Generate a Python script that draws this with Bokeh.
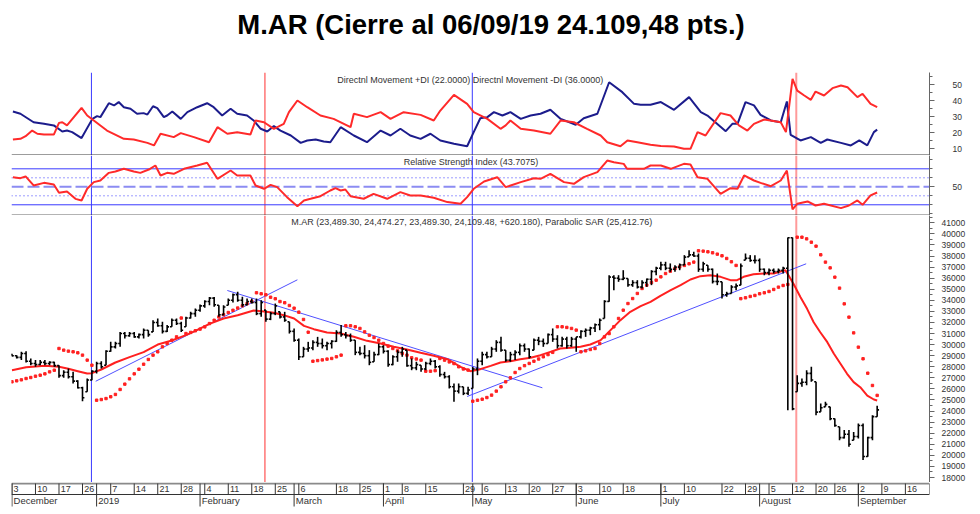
from bokeh.plotting import figure
from bokeh.models import Range1d, FixedTicker, Label, Span
from bokeh.layouts import column
from bokeh.embed import file_html
from bokeh.resources import INLINE
from bokeh.core.properties import value

TITLE = "M.AR (Cierre al 06/09/19 24.109,48 pts.)"
DMI_LABEL = "Directnl Movement +DI (22.0000) Directnl Movement -DI (36.0000)"
RSI_LABEL = "Relative Strength Index (43.7075)"
PRICE_LABEL = "M.AR (23,489.30, 24,474.27, 23,489.30, 24,109.48, +620.180), Parabolic SAR (25,412.76)"

# ---- daily bars (trading-day index 0 = 3 Dec 2018 ... 184 = 6 Sep 2019) ----
high = [29170, 29050, 29350, 29410, 28750, 28600, 28600, 28600, 28500, 28450,
        28140, 27690, 27840, 27540, 26790, 26190, 26940, 27690, 28450, 28500,
        29500, 30250, 30250, 31150, 31150, 31150, 31150, 31000, 31460, 31300,
        32210, 32360, 32060, 31760, 32360, 32360, 32060, 32510, 32960, 33260,
        33620, 34010, 34310, 34310, 33560, 33560, 34160, 34620, 34770, 34320,
        34160, 34160, 34160, 34010, 33110, 32960, 33710, 32960, 32960, 32060,
        31460, 30550, 29800, 30250, 30400, 30700, 30550, 30250, 30400, 31300,
        31760, 31150, 31000, 30400, 29800, 29950, 29500, 29350, 30100, 29950,
        29500, 29050, 29500, 29800, 29500, 28750, 28450, 28140, 28450, 28750,
        28600, 28140, 27540, 27240, 26490, 26490, 26190, 26190, 27990, 28750,
        29350, 29350, 29800, 30400, 30700, 29500, 29350, 29500, 30100, 30100,
        29650, 30550, 30700, 30550, 31000, 31460, 30850, 30700, 30700, 30700,
        30700, 31300, 31460, 31610, 31910, 32360, 34010, 36270, 36270, 36270,
        36720, 35970, 35820, 35820, 35820, 35970, 36720, 37020, 37480, 37480,
        37330, 37170, 37330, 38080, 38530, 38380, 38230, 37480, 37170, 36870,
        36420, 35670, 34770, 35370, 35520, 37330, 38230, 38080, 38080, 37780,
        36870, 36870, 36870, 36870, 37020, 39670, 39670, 27240, 26940, 27690,
        27990, 26640, 24680, 24830, 24380, 23330, 22580, 22280, 22280, 22120,
        22880, 22880, 21670, 23630, 24474.27]
low = [28930, 28750, 28600, 28390, 28140, 27990, 28140, 28140, 28140, 27990,
       27000, 27000, 26940, 26490, 26040, 24890, 25740, 26790, 27390, 27840,
       28140, 29350, 29650, 29800, 30550, 30700, 30610, 30550, 30550, 30700,
       31150, 31610, 31000, 31150, 31610, 31760, 31150, 31610, 32360, 32510,
       32960, 33320, 33560, 33410, 32510, 32660, 33560, 33800, 33860, 33410,
       33560, 33710, 32660, 32510, 32060, 32210, 32660, 32360, 32060, 31000,
       30250, 28600, 28900, 29350, 29500, 29800, 29650, 29500, 29650, 30250,
       30700, 30550, 30250, 29050, 29050, 28750, 28140, 28450, 29050, 29200,
       27990, 28140, 28450, 28900, 27990, 27690, 27690, 27540, 27690, 28140,
       27840, 27090, 26940, 26040, 24830, 25590, 25440, 25440, 26040, 27240,
       28140, 28750, 28900, 29350, 29350, 28450, 28450, 28600, 29050, 29350,
       28750, 29500, 29950, 29800, 30100, 30250, 29650, 29800, 29650, 29800,
       29350, 30550, 30700, 30850, 31150, 31300, 32360, 33860, 34920, 35670,
       35820, 35220, 35220, 35070, 35070, 35220, 35370, 36270, 36720, 36720,
       36570, 36570, 36720, 37170, 37930, 37930, 36570, 36570, 36570, 35520,
       35370, 34160, 34320, 34620, 34920, 35370, 37630, 37480, 37330, 36570,
       36270, 36270, 36420, 36420, 36420, 24080, 24080, 25740, 26190, 26340,
       26640, 23630, 23930, 24380, 23180, 22580, 21370, 21520, 20770, 21370,
       21520, 19570, 19870, 21370, 23489.30]
open_ = [29100, 29000, 28850, 29200, 28500, 28300, 28200, 28400, 28300, 28400,
         28100, 27200, 27500, 27100, 26700, 26100, 25740, 26800, 27600, 28300,
         28140, 29400, 29800, 30100, 31000, 30800, 31000, 30700, 30900, 31300,
         31150, 32000, 31700, 31200, 31610, 32200, 31900, 31610, 32400, 32800,
         33100, 33500, 33900, 34200, 33560, 32700, 33560, 34000, 34500, 34000,
         33600, 33900, 33800, 32800, 33110, 32300, 32800, 32960, 32500, 32060,
         31200, 30400, 28900, 29600, 29700, 30200, 30100, 29900, 30100, 30300,
         31100, 30900, 30800, 30400, 29300, 29200, 29000, 28450, 29100, 29800,
         29400, 28200, 28900, 29300, 29500, 28100, 27900, 28140, 27800, 28300,
         28500, 28000, 27300, 27100, 26200, 25800, 26190, 25600, 26040, 27800,
         28500, 29100, 28900, 29600, 30200, 29500, 28600, 29100, 29300, 29900,
         29600, 29500, 30400, 30300, 30100, 30900, 30500, 29900, 30500, 29900,
         30500, 30700, 31200, 31300, 31500, 31800, 32360, 33900, 36100, 36000,
         35900, 35970, 35400, 35600, 35200, 35600, 35900, 36600, 36900, 37200,
         36900, 36800, 37000, 37200, 37930, 38100, 38000, 36800, 37170, 36800,
         35700, 35670, 34500, 34620, 35200, 35370, 37630, 37800, 37600, 37600,
         36800, 36500, 36700, 36600, 36700, 36900, 39650, 25740, 26500, 26600,
         27400, 26640, 23930, 24380, 24380, 23300, 22580, 21600, 21900, 21370,
         21700, 22700, 19900, 21600, 23489.30]
close = [29000, 28850, 29200, 28500, 28300, 28200, 28400, 28300, 28400, 28100,
         27200, 27500, 27100, 26700, 26100, 25200, 26800, 27600, 28300, 28000,
         29400, 29800, 30100, 31000, 30800, 31000, 30700, 30900, 31300, 30900,
         32000, 31700, 31200, 31600, 32200, 31900, 31300, 32400, 32800, 33100,
         33500, 33900, 34200, 33600, 32700, 33400, 34000, 34500, 34000, 33600,
         33900, 33800, 32800, 33800, 32300, 32800, 33500, 32500, 32200, 31200,
         30400, 28900, 29600, 29700, 30200, 30100, 29900, 30100, 30300, 31100,
         30900, 30800, 30400, 29300, 29200, 29000, 28400, 29100, 29800, 29400,
         28200, 28900, 29300, 29600, 28100, 27900, 28200, 27800, 28300, 28500,
         28000, 27300, 27100, 26200, 25800, 26200, 25600, 25900, 27800, 28500,
         29100, 28900, 29600, 30200, 29500, 28600, 29100, 29300, 29900, 29600,
         28900, 30400, 30300, 30100, 30900, 30500, 29900, 30500, 29900, 30500,
         30700, 31200, 31300, 31500, 31800, 32200, 33900, 36100, 36000, 35900,
         36000, 35400, 35600, 35200, 35600, 35900, 36600, 36900, 37200, 36900,
         36800, 37000, 37200, 37900, 38100, 38000, 36800, 37300, 36800, 35700,
         35700, 34500, 34600, 35200, 35300, 37100, 37800, 37600, 37600, 36800,
         36500, 36700, 36600, 36700, 36900, 39650, 24200, 26500, 26600, 27400,
         26800, 23900, 24300, 24600, 23300, 22700, 21600, 21900, 21000, 21700,
         22700, 19900, 21600, 23500, 24109.48]
day = list(range(len(close)))

# ---- moving average (red line) ----
ma_x = [0, 3, 7, 10, 12, 14, 16, 17, 19, 22, 25, 28, 31, 34, 37, 39, 42, 45, 48, 51.4,
        53.6, 55.7, 57.8, 60, 62.1, 64.2, 67, 69.9, 72.7, 75.5, 78.4, 81.2, 84, 86.9, 89.7,
        92.6, 95.4, 97.5, 99.6, 101.8, 103.9, 106, 108.1, 110.3, 112.4, 114.5, 116.6, 118.8,
        120.9, 123, 125.2, 127.3, 129.4, 131.5, 133.7, 135.8, 137.9, 140.1, 142.2, 144.3,
        146.4, 148.5, 150.7, 152.8, 154.2, 155.6, 157.7, 159.9, 162, 164.5, 166.2, 167.7,
        169.1, 170.5, 171.9, 173.4, 174.8, 176.2, 177.6, 179, 180.4, 181.9, 183.3, 184]
ma_y = [27693, 27963, 28084, 27994, 27813, 27602, 27392, 27422, 27753, 28385, 28867, 29318,
        30010, 30372, 30853, 31245, 31876, 32358, 32659, 33080, 32990, 32870, 32659, 32358,
        31696, 31395, 31094, 31004, 30703, 30341, 30101, 29800, 29559, 29257, 28987, 28686,
        27994, 27602, 27783, 28084, 28385, 28505, 28686, 28806, 29047, 29348, 29649, 29709,
        29800, 30010, 30402, 31305, 32208, 32960, 33472, 33863, 34405, 34917, 35368, 35880,
        36181, 36271, 36121, 35820, 35820, 36121, 36361, 36422, 36422, 36723, 35490, 34280,
        33230, 32025, 31120, 30220, 29170, 28270, 27365, 26610, 26155, 25400, 25045, 24955]

# ---- parabolic SAR dots ----
sar_x = list(range(0, 166)) + list(range(167, 185))
sar_y = [26640, 26730, 26820, 26940, 27030, 27150, 27240, 27360, 27540, 27690,
         29650, 29500, 29410, 29350, 29260, 29050, 28600, 28140,
         24980, 25040, 25130, 25290, 25500, 25950, 26430, 26910, 27360, 27780, 28230, 28660,
         29050, 29350, 29800, 30100, 30400, 30700,
         32400, 31000, 31100, 31250, 31400, 31600, 31900, 32200, 32500, 32700, 32900, 33100,
         33300, 33500, 33700, 33900,
         34680, 34590, 34500, 34280, 34140, 33890, 33780, 33530, 33290, 32930, 32270, 31120,
         28500, 28560, 28620, 28690, 28750, 28900, 29050,
         31700, 31700, 31610, 31460, 31150, 30850, 30640, 30400, 30100, 29860, 29650, 29440,
         29200, 29050, 28810, 28700, 28600,
         27600, 27600, 27650,
         28750, 28600, 28440, 28290, 28000, 27800, 27700,
         24890, 24980, 25070, 25220, 25440, 25800, 26190, 26640, 27000, 27480, 27840, 28100,
         28300, 28500, 28700, 28900, 29100, 29300,
         31610, 31610, 31550, 31460, 31310,
         29350, 29440, 29560, 29650, 30100, 30700, 31000, 31610, 32360, 33110, 33710, 34160,
         34620, 35070, 35370, 35610, 35820, 36120, 36420, 36630, 36870, 37020, 37150, 37300,
         37450,
         38470, 38440, 38380, 38290, 38170, 38020, 37780, 37480, 37150,
         34150, 34230, 34350, 34440, 34590, 34680, 34800, 34980, 35190, 35340, 35430,
         39700, 39700, 39550, 39250, 38890, 38110, 37450, 36930, 36090, 35100, 33680, 32480,
         31060, 29770, 28720, 27420, 26310, 25413]

# ---- trend lines drawn on the price panel ----
trend_x0 = [17.8, 45.8, 96.8]
trend_y0 = [26690, 34887, 25315]
trend_x1 = [60.7, 112.8, 168.9]
trend_y1 = [35853, 26100, 37298]

# ---- vertical marker lines ----
vline_blue = [16.9, 97.9]
vline_red = [53.8]
vline_pink = [166.8]

# ---- Directional movement ----
pdi_x = [0.2, 1.8, 4.6, 6.8, 8.9, 10.7, 11.7, 12.8, 14.8, 17.1, 18.1, 18.8, 20.6, 21.7, 22.7,
         23.8, 25.2, 26.6, 28.0, 28.8, 30.0, 30.9, 32.3, 33.0, 34.1, 35.9, 37.3, 39.4, 41.5,
         42.9, 44.7, 46.5, 47.9, 50.0, 51.4, 52.9, 54.3, 55.7, 57.1, 59.3, 61.4, 62.8, 64.6,
         66.3, 67.7, 69.9, 72.7, 75.5, 78.4, 80.5, 82.6, 84.7, 86.9, 89.0, 91.1, 94.0, 96.8,
         98.2, 99.6, 101.1, 102.5, 104.3, 106.0, 108.2, 110.3, 112.4, 114.5, 116.7, 119.9,
         121.6, 124.5, 127.0, 129.8, 132.3, 133.7, 135.8, 138.0, 140.8, 144.0, 146.5, 147.9,
         151.8, 153.2, 154.3, 156.0, 157.8, 159.2, 161.4, 163.5, 164.8, 165.6, 167.7, 169.9,
         172.0, 173.4, 176.3, 178.4, 180.2, 181.9, 183.3, 184.0]
pdi_y = [33.3, 31.9, 26.6, 25.6, 24.6, 20.8, 21.4, 20.4, 16.7, 28.7, 30.4, 29.8, 38.5, 37.1,
         39.2, 36.0, 35.0, 31.9, 32.3, 31.4, 36.6, 35.4, 29.8, 30.8, 33.3, 28.7, 32.9, 36.0,
         38.5, 36.0, 30.8, 35.0, 31.9, 30.8, 27.7, 22.5, 20.8, 24.2, 21.4, 18.3, 13.7, 15.2,
         15.8, 14.6, 14.1, 23.5, 18.3, 14.1, 21.4, 18.3, 22.5, 18.3, 16.2, 19.4, 15.2, 13.1,
         11.6, 20.4, 29.1, 29.8, 32.9, 30.8, 32.9, 28.7, 30.8, 31.9, 34.4, 28.7, 25.0, 29.1,
         31.9, 51.6, 45.4, 38.1, 37.5, 37.5, 39.2, 34.4, 42.3, 32.9, 30.8, 21.0, 25.6, 25.6,
         39.2, 37.1, 31.2, 27.7, 26.6, 39.6, 18.7, 15.2, 17.3, 13.7, 15.8, 13.7, 12.1, 15.2,
         12.1, 20.4, 22.0]
mdi_x = [0.2, 1.8, 2.9, 4.3, 5.4, 6.8, 8.9, 10.0, 10.7, 11.7, 14.8, 16.0, 17.4, 20.2, 23.8,
         25.9, 28.8, 30.2, 31.6, 34.4, 35.9, 38.7, 41.9, 43.7, 45.8, 47.9, 50.7, 51.8, 53.6,
         55.7, 57.8, 58.9, 60.7, 62.8, 65.6, 68.4, 72.0, 72.7, 75.5, 78.4, 80.5, 83.3, 86.9,
         89.7, 91.1, 94.0, 96.8, 98.2, 101.1, 103.9, 105.0, 106.0, 108.2, 111.0, 114.5, 116.7,
         119.5, 122.3, 125.2, 126.6, 129.4, 130.9, 133.0, 135.8, 138.0, 140.8, 142.9, 144.3,
         145.8, 147.5, 150.7, 152.8, 154.6, 156.4, 157.8, 160.0, 163.5, 164.6, 166.0, 167.0,
         168.5, 169.9, 170.9, 172.7, 174.5, 176.3, 177.7, 179.8, 180.9, 182.6, 184.0]
mdi_y = [15.8, 16.2, 17.9, 21.4, 19.4, 18.9, 18.9, 26.2, 26.6, 24.6, 35.6, 30.8, 27.7, 21.4,
         16.2, 15.8, 13.7, 12.1, 19.4, 17.3, 19.8, 17.3, 14.1, 23.5, 19.4, 20.4, 18.9, 27.7,
         26.6, 22.5, 25.6, 32.9, 40.2, 36.0, 30.8, 28.7, 23.5, 31.9, 29.8, 32.9, 28.7, 32.9,
         31.2, 27.7, 33.9, 43.7, 38.1, 32.9, 28.7, 22.5, 24.6, 27.7, 22.5, 21.4, 19.4, 27.7,
         26.6, 22.5, 18.3, 14.1, 11.6, 15.2, 14.1, 12.5, 11.7, 11.4, 10.0, 10.0, 20.4, 18.3,
         32.3, 30.8, 24.6, 21.4, 25.6, 28.3, 26.6, 20.4, 53.7, 46.4, 43.3, 40.6, 45.8, 43.3,
         47.9, 49.6, 48.5, 42.3, 44.4, 38.1, 36.0]

# ---- RSI ----
rsi_x = [0.2, 1.8, 2.9, 4.6, 6.8, 8.9, 10.0, 11.7, 13.5, 14.8, 16.0, 17.4, 18.8, 20.6, 22.0,
         23.8, 25.9, 27.3, 29.1, 30.5, 31.6, 33.0, 34.4, 36.6, 39.4, 41.5, 43.7, 46.5, 47.9,
         50.7, 51.8, 53.6, 55.0, 56.4, 58.5, 60.7, 62.1, 63.5, 65.6, 67.7, 68.8, 69.9, 70.9,
         72.0, 74.8, 76.9, 79.8, 82.6, 84.7, 86.9, 89.7, 92.6, 95.4, 96.8, 98.2, 100.4, 103.2,
         105.0, 108.2, 111.0, 112.4, 114.5, 117.4, 119.5, 121.6, 124.5, 126.6, 128.0, 130.1,
         130.8, 134.4, 135.8, 138.0, 140.1, 142.9, 144.3, 145.8, 147.9, 150.7, 152.8, 154.3,
         155.7, 157.8, 159.2, 161.4, 163.5, 164.8, 166.0, 167.0, 169.2, 170.9, 172.7, 176.3,
         178.0, 179.8, 180.9, 182.6, 184.0]
rsi_y = [60.7, 59.6, 61.5, 51.5, 54.4, 52.6, 43.3, 44.8, 36.6, 34.8, 47.8, 55.2, 57.0, 65.5,
         67.0, 70.0, 67.0, 65.5, 69.2, 73.7, 62.6, 65.5, 64.4, 70.0, 73.7, 76.7, 58.9, 68.1,
         62.6, 62.6, 51.5, 47.8, 52.2, 49.6, 38.5, 28.5, 34.8, 36.7, 39.6, 45.9, 48.5, 45.9,
         47.0, 39.6, 36.7, 42.2, 36.7, 44.1, 40.4, 40.4, 37.8, 33.0, 31.1, 38.5, 47.8, 55.9,
         60.7, 49.6, 55.2, 59.6, 58.9, 64.4, 55.2, 53.3, 60.7, 66.3, 79.2, 77.4, 75.5, 70.0,
         70.0, 73.7, 73.7, 70.0, 75.5, 74.8, 60.7, 58.9, 42.2, 48.5, 47.8, 62.6, 57.0, 54.4,
         50.7, 57.0, 68.1, 24.8, 31.1, 33.7, 29.2, 31.1, 26.3, 29.2, 34.8, 30.0, 40.4, 43.7]
rsi_levels_solid = [70, 30]
rsi_levels_dotted = [60, 40]
rsi_level_mid = 50

# ---- axes ----
dmi_ticks = [10, 20, 30, 40, 50]
dmi_minor = [5, 15, 25, 35, 45, 55]
rsi_ticks = [50]
rsi_minor = [20, 30, 40, 60, 70, 80]
price_ticks = list(range(18000, 41001, 1000))
price_minor = list(range(17500, 41501, 500))
week_ticks = [0, 5, 10, 15, 21, 26, 31, 36, 41, 46, 51, 56, 61, 69, 74, 79, 83, 88, 96, 100,
              105, 110, 115, 120, 125, 130, 138, 143, 151, 156, 161, 166, 171, 175, 180, 185, 190]
week_labels = ["3", "10", "17", "26", "7", "14", "21", "28", "4", "11", "18", "25", "6", "18",
               "25", "1", "8", "15", "29", "6", "13", "20", "27", "3", "10", "18", "1", "10",
               "22", "29", "5", "12", "20", "26", "2", "9", "16"]
month_ticks = [0, 18, 40, 60, 79, 98, 120, 138, 159, 180]
month_labels = ["December", "2019", "February", "March", "April", "May", "June", "July",
                "August", "September"]

# ---------------- layout -----------------
LB, RB, FW = 11, 51, 918
FONT = "Liberation Sans"
TXT = "#333333"
xr = Range1d(-0.1, 195.13)
dmi_range = (5.8, 57.7)
rsi_range = (18.1, 84.8)
price_range = (17549, 41659)


def bare(fh, x_range, y_range):
    p = figure(frame_width=FW, frame_height=fh, x_range=x_range, y_range=y_range,
               output_backend="svg", toolbar_location=None, x_axis_location=None,
               y_axis_location=None, min_border_left=LB, min_border_right=RB,
               min_border_top=0, min_border_bottom=0)
    p.grid.visible = False
    p.outline_line_color = None
    return p


def panel(fh, yr, ticks, minor, standoff):
    p = figure(frame_width=FW, frame_height=fh, x_range=xr, y_range=Range1d(*yr),
               output_backend="svg", toolbar_location=None,
               x_axis_location=None, y_axis_location="right",
               min_border_left=LB, min_border_right=RB, min_border_top=0,
               min_border_bottom=0)
    p.grid.visible = False
    p.outline_line_color = None
    ax = p.yaxis[0]
    ax.ticker = FixedTicker(ticks=ticks, minor_ticks=minor)
    ax.axis_line_color = "#666666"
    ax.major_tick_line_color = "#666666"
    ax.minor_tick_line_color = "#666666"
    ax.major_tick_out = 5
    ax.major_tick_in = 0
    ax.minor_tick_out = 3
    ax.minor_tick_in = 0
    ax.major_label_standoff = standoff
    ax.major_label_text_font = FONT
    ax.major_label_text_font_size = "8.5px"
    ax.major_label_text_color = TXT
    return p


def vlines(p):
    for v in vline_blue:
        p.add_layout(Span(location=v, dimension="height", line_color="#3a3aff", line_width=1, level="underlay"))
    for v in vline_red:
        p.add_layout(Span(location=v, dimension="height", line_color="#ff3030", line_width=1, level="underlay"))
    for v in vline_pink:
        p.add_layout(Span(location=v, dimension="height", line_color="#ff9a9a", line_width=2, level="underlay"))


# Title strip
p0 = bare(72, Range1d(0, FW), Range1d(0, 72))
p0.add_layout(Label(x=479.5, y=48, text=TITLE, text_font="Liberation Sans",
                    text_font_size="27.5px", text_font_style="bold", text_color="black",
                    text_align="center", text_baseline="middle"))

# DMI panel
p1 = panel(83, dmi_range, dmi_ticks, dmi_minor, 18)
vlines(p1)
p1.line(pdi_x, pdi_y, line_color="#1c1c8c", line_width=2)
p1.line(mdi_x, mdi_y, line_color="#ff2a2a", line_width=2)
p1.add_layout(Span(location=dmi_range[0] + 0.3, dimension="width", line_color="#333333", line_width=1))
p1.add_layout(Label(x=69.2, y=52.7, text=DMI_LABEL, text_font=FONT, text_font_size="9px",
                    text_color=TXT, text_baseline="middle"))

# RSI panel
p2 = panel(60, rsi_range, rsi_ticks, rsi_minor, 18)
vlines(p2)
for lv in rsi_levels_solid:
    p2.add_layout(Span(location=lv, dimension="width", line_color="#3a3aff", line_width=1, level="underlay"))
for lv in rsi_levels_dotted:
    p2.add_layout(Span(location=lv, dimension="width", line_color="#3a3aff", line_width=1,
                       line_dash="1 3", level="underlay"))
p2.add_layout(Span(location=rsi_level_mid, dimension="width", line_color="#8c8cf2", line_width=2,
                   line_dash="12 4", level="underlay"))
p2.line(rsi_x, rsi_y, line_color="#ff2a2a", line_width=2)
p2.add_layout(Span(location=rsi_range[0] + 0.4, dimension="width", line_color="#333333", line_width=1))
p2.add_layout(Label(x=83.3, y=77.5, text=RSI_LABEL, text_font=FONT, text_font_size="9px",
                    text_color=TXT, text_baseline="middle"))

# Price panel
p3 = panel(267, price_range, price_ticks, price_minor, 7)
vlines(p3)
p3.segment(trend_x0, trend_y0, trend_x1, trend_y1, line_color="#5050ff", line_width=1)
p3.line(ma_x, ma_y, line_color="#ff2020", line_width=2)
p3.scatter(sar_x, sar_y, size=2.4, marker="square", color="#ff2020")
p3.segment(day, low, day, high, line_color="black", line_width=1.6)
p3.segment([d - 0.4 for d in day], open_, day, open_, line_color="black", line_width=1.6)
p3.segment(day, close, [d + 0.4 for d in day], close, line_color="black", line_width=1.6)
p3.add_layout(Label(x=59.4, y=41027, text=PRICE_LABEL, text_font=FONT, text_font_size="9px",
                    text_color=TXT, text_baseline="middle"))

# Date strip
p4 = bare(32, xr, Range1d(0, 32))
x_end = xr.end
p4.segment([xr.start], [31], [x_end], [31], line_color="#8a8a8a", line_width=2)
p4.segment([xr.start], [20], [x_end], [20], line_color="#333333", line_width=1)
row1 = week_ticks + month_ticks + [x_end]
p4.segment(row1, [31] * len(row1), row1, [20] * len(row1), line_color="#333333", line_width=1)
p4.segment(month_ticks, [20] * len(month_ticks), month_ticks, [8] * len(month_ticks),
           line_color="#333333", line_width=1)
p4.text([t + 0.35 for t in week_ticks], [25.5] * len(week_ticks), text=week_labels,
        text_font=value(FONT), text_font_size="9px", text_color=TXT,
        text_align="left", text_baseline="middle")
p4.text([t + 0.35 for t in month_ticks], [14] * len(month_ticks), text=month_labels,
        text_font=value(FONT), text_font_size="9.5px", text_color=TXT,
        text_align="left", text_baseline="middle")

layout = column(p0, p1, p2, p3, p4, spacing=0)
open("out.html", "w").write(file_html(layout, INLINE, title="M.AR"))
